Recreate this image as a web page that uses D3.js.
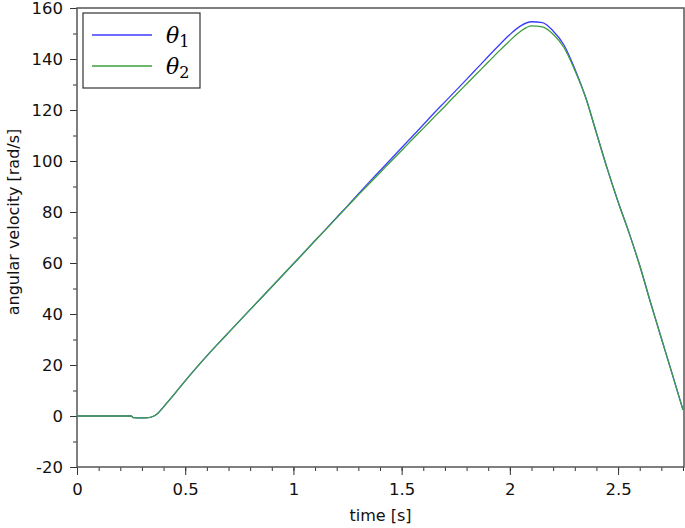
<!DOCTYPE html>
<html>
<head>
<meta charset="utf-8">
<script src="https://cdn.jsdelivr.net/npm/d3@7"></script>
<style>
  body { margin: 0; background: #fff; }
  svg { display: block; }
</style>
</head>
<body>
<svg id="chart"></svg>
<script>
// time samples [s]
var time = [0, 0.05, 0.1, 0.15, 0.2, 0.25, 0.26, 0.3, 0.33, 0.35, 0.37, 0.4, 0.45, 0.5, 0.55, 0.6,
  0.65, 0.7, 0.75, 0.8, 0.85, 0.9, 0.95, 1.0, 1.05, 1.1, 1.15, 1.2, 1.25, 1.3, 1.35, 1.4,
  1.45, 1.5, 1.55, 1.6, 1.65, 1.7, 1.75, 1.8, 1.85, 1.9, 1.95, 2.0, 2.05, 2.1, 2.15, 2.2,
  2.25, 2.3, 2.35, 2.4, 2.45, 2.5, 2.55, 2.6, 2.65, 2.7, 2.75, 2.8];

// theta1 (blue)
var theta1 = [0, 0, 0, 0, 0, 0, -0.6, -0.7, -0.6, -0.2, 0.8, 3.6, 8.6, 13.8, 18.8, 23.6,
  28.2, 32.7, 37.2, 41.7, 46.2, 50.7, 55.2, 59.7, 64.2, 68.8, 73.3, 77.9, 82.4, 87.1, 91.7, 96.2,
  100.7, 105.2, 109.7, 114.2, 118.8, 123.2, 127.6, 132.0, 136.5, 141.0, 145.4, 149.6, 153.0, 154.6, 154.3, 151.0,
  145.5, 136.2, 125.0, 111.0, 97.0, 84.0, 72.0, 59.0, 44.5, 30.5, 16.5, 2.4];

// theta2 (green)
var theta2 = [0, 0, 0, 0, 0, 0, -0.6, -0.7, -0.6, -0.2, 0.8, 3.6, 8.6, 13.8, 18.8, 23.6,
  28.2, 32.7, 37.2, 41.7, 46.2, 50.7, 55.2, 59.7, 64.2, 68.7, 73.2, 77.7, 82.2, 86.7, 91.1, 95.4,
  99.8, 104.1, 108.5, 112.8, 117.2, 121.5, 125.9, 130.2, 134.5, 138.8, 143.1, 147.2, 150.9, 153.0, 152.6, 149.7,
  144.5, 135.6, 125.0, 111.0, 97.0, 84.0, 72.0, 59.0, 44.5, 30.5, 16.5, 2.4];

var xMajor = [0, 0.5, 1, 1.5, 2, 2.5];
var xMinor = d3.range(0, 29).map(function(i) { return i / 10; });
var yMajor = [-20, 0, 20, 40, 60, 80, 100, 120, 140, 160];
var yMinor = [-10, 10, 30, 50, 70, 90, 110, 130, 150];

var seriesNames = ["1", "2"];
var seriesColors = ["#3c3cff", "#3d9e3d"];

var W = 685, H = 528;
var pL = 77, pR = 684, pT = 8, pB = 467;

var svg = d3.select("#chart").attr("width", W).attr("height", H);

var x = d3.scaleLinear().domain([0, 2.8]).range([pL, 683]);
var y = d3.scaleLinear().domain([-20, 160]).range([pB, pT]);

var font = "'DejaVu Sans', Verdana, sans-serif";

// minor ticks
svg.append("g")
    .attr("transform", "translate(0," + pB + ")")
    .call(d3.axisBottom(x).tickValues(xMinor).tickSize(4).tickFormat(""))
    .call(function(g) { g.select(".domain").remove(); })
    .selectAll("line").attr("stroke", "#333");

svg.append("g")
    .attr("transform", "translate(" + pL + ",0)")
    .call(d3.axisLeft(y).tickValues(yMinor).tickSize(4).tickFormat(""))
    .call(function(g) { g.select(".domain").remove(); })
    .selectAll("line").attr("stroke", "#333");

// major ticks + labels
var xAxis = svg.append("g")
    .attr("transform", "translate(0," + pB + ")")
    .call(d3.axisBottom(x).tickValues(xMajor).tickSize(8).tickPadding(8).tickFormat(function(d) { return d; }));
xAxis.select(".domain").remove();
xAxis.selectAll("line").attr("stroke", "#333");
xAxis.selectAll("text").attr("font-family", font).attr("font-size", "16.5px").attr("fill", "#111");

var yAxis = svg.append("g")
    .attr("transform", "translate(" + pL + ",0)")
    .call(d3.axisLeft(y).tickValues(yMajor).tickSize(7).tickPadding(7).tickFormat(function(d) { return d; }));
yAxis.select(".domain").remove();
yAxis.selectAll("line").attr("stroke", "#333");
yAxis.selectAll("text").attr("font-family", font).attr("font-size", "16.5px").attr("fill", "#111");

// frame
svg.append("rect")
    .attr("x", pL).attr("y", pT)
    .attr("width", pR - pL).attr("height", pB - pT)
    .attr("fill", "none").attr("stroke", "#555").attr("stroke-width", 1.5);

// curves
var line = d3.line()
    .x(function(d) { return x(d[0]); })
    .y(function(d) { return y(d[1]); })
    .curve(d3.curveMonotoneX);

[theta1, theta2].forEach(function(vals, i) {
    svg.append("path")
        .datum(time.map(function(t, k) { return [t, vals[k]]; }))
        .attr("fill", "none")
        .attr("stroke", seriesColors[i])
        .attr("stroke-width", 1.3)
        .attr("d", line);
});

// axis titles
svg.append("text")
    .attr("x", (pL + pR) / 2).attr("y", 521)
    .attr("text-anchor", "middle")
    .attr("font-family", font).attr("font-size", "16px").attr("fill", "#111")
    .text("time [s]");

svg.append("text")
    .attr("transform", "translate(19,222) rotate(-90)")
    .attr("text-anchor", "middle")
    .attr("font-family", font).attr("font-size", "16px").attr("fill", "#111")
    .text("angular velocity [rad/s]");

// legend
var lg = svg.append("g");
lg.append("rect")
    .attr("x", 83).attr("y", 13).attr("width", 117).attr("height", 75)
    .attr("fill", "#fff").attr("stroke", "#333").attr("stroke-width", 1.2);

seriesNames.forEach(function(n, i) {
    var yy = 35 + i * 31;
    lg.append("line")
        .attr("x1", 92).attr("x2", 152).attr("y1", yy).attr("y2", yy)
        .attr("stroke", seriesColors[i]).attr("stroke-width", 1.5);
    var t = lg.append("text")
        .attr("x", 166).attr("y", yy + 8)
        .attr("font-family", "'DejaVu Serif', 'Liberation Serif', serif")
        .attr("font-style", "italic").attr("font-size", "22px").attr("fill", "#000");
    t.append("tspan").text("θ");
    t.append("tspan").attr("dy", 4).attr("font-size", "16px").attr("font-style", "normal").text(n);
});
</script>
</body>
</html>
